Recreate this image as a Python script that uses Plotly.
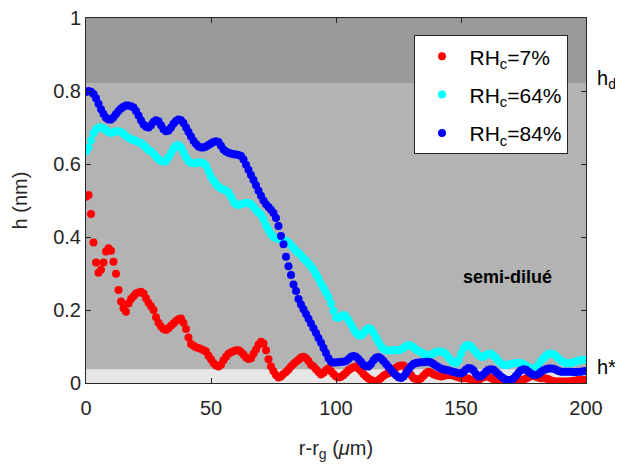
import plotly.graph_objects as go

x_um = list(range(0, 201))

h_rh7 = [
    0.51, 0.515, 0.463, 0.385, 0.33, 0.302, 0.31, 0.33, 0.36, 0.369,
    0.362, 0.332, 0.299, 0.255, 0.223, 0.205, 0.195, 0.218, 0.23, 0.238,
    0.245, 0.248, 0.25, 0.245, 0.232, 0.22, 0.21, 0.2, 0.18, 0.165,
    0.155, 0.148, 0.145, 0.15, 0.157, 0.163, 0.17, 0.175, 0.177, 0.165,
    0.148, 0.125, 0.107, 0.102, 0.098, 0.096, 0.093, 0.09, 0.086, 0.075,
    0.065, 0.055, 0.048, 0.045, 0.05, 0.062, 0.072, 0.08, 0.084, 0.087,
    0.09, 0.09, 0.085, 0.078, 0.07, 0.066, 0.068, 0.08, 0.092, 0.105,
    0.113, 0.108, 0.09, 0.065, 0.045, 0.032, 0.022, 0.015, 0.018, 0.025,
    0.03, 0.037, 0.045, 0.052, 0.058, 0.064, 0.07, 0.072, 0.068, 0.06,
    0.05, 0.045, 0.038, 0.03, 0.023, 0.028, 0.035, 0.04, 0.032, 0.025,
    0.018, 0.015, 0.017, 0.022, 0.028, 0.035, 0.04, 0.043, 0.045, 0.04,
    0.033, 0.025, 0.018, 0.012, 0.008, 0.005, 0.004, 0.008, 0.014, 0.02,
    0.024, 0.027, 0.032, 0.037, 0.042, 0.046, 0.048, 0.048, 0.042, 0.032,
    0.022, 0.014, 0.01, 0.008, 0.013, 0.02, 0.027, 0.031, 0.028, 0.024,
    0.021, 0.019, 0.018, 0.019, 0.021, 0.022, 0.022, 0.02, 0.018, 0.016,
    0.014, 0.013, 0.013, 0.012, 0.008, 0.005, 0.005, 0.008, 0.012, 0.016,
    0.018, 0.017, 0.014, 0.01, 0.006, 0.004, 0.004, 0.005, 0.007, 0.008,
    0.008, 0.008, 0.008, 0.008, 0.008, 0.009, 0.012, 0.016, 0.019, 0.019,
    0.017, 0.015, 0.013, 0.013, 0.012, 0.01, 0.007, 0.005, 0.004, 0.004,
    0.004, 0.004, 0.004, 0.004, 0.005, 0.006, 0.007, 0.008, 0.008, 0.008,
    0.009,
]

h_rh64 = [
    0.634, 0.645, 0.665, 0.685, 0.695, 0.70, 0.70, 0.698, 0.693, 0.688,
    0.685, 0.687, 0.69, 0.69, 0.688, 0.683, 0.677, 0.672, 0.668, 0.666,
    0.663, 0.66, 0.657, 0.652, 0.645, 0.638, 0.634, 0.628, 0.62, 0.613,
    0.608, 0.606, 0.608, 0.618, 0.63, 0.642, 0.65, 0.652, 0.645, 0.632,
    0.618, 0.608, 0.603, 0.602, 0.602, 0.604, 0.604, 0.602, 0.595, 0.58,
    0.565, 0.555, 0.545, 0.538, 0.533, 0.53, 0.527, 0.522, 0.51, 0.497,
    0.49, 0.488, 0.49, 0.492, 0.493, 0.493, 0.49, 0.483, 0.475, 0.467,
    0.46, 0.448, 0.432, 0.419, 0.408, 0.40, 0.397, 0.395, 0.393, 0.392,
    0.39, 0.385, 0.378, 0.37, 0.362, 0.356, 0.349, 0.342, 0.335, 0.327,
    0.319, 0.31, 0.298, 0.286, 0.272, 0.26, 0.248, 0.236, 0.218, 0.198,
    0.18, 0.178, 0.183, 0.186, 0.182, 0.172, 0.16, 0.148, 0.138, 0.131,
    0.13, 0.136, 0.145, 0.15, 0.148, 0.138, 0.125, 0.112, 0.10, 0.093,
    0.09, 0.089, 0.089, 0.09, 0.09, 0.09, 0.092, 0.096, 0.101, 0.104,
    0.102, 0.097, 0.092, 0.088, 0.084, 0.08, 0.078, 0.077, 0.078, 0.081,
    0.085, 0.086, 0.086, 0.084, 0.078, 0.07, 0.062, 0.056, 0.054, 0.062,
    0.08, 0.095, 0.102, 0.104, 0.10, 0.092, 0.084, 0.076, 0.072, 0.072,
    0.076, 0.08, 0.08, 0.075, 0.068, 0.06, 0.054, 0.05, 0.049, 0.05,
    0.052, 0.054, 0.055, 0.055, 0.055, 0.052, 0.047, 0.043, 0.04, 0.04,
    0.042, 0.05, 0.06, 0.068, 0.075, 0.08, 0.081, 0.079, 0.074, 0.067,
    0.061, 0.057, 0.054, 0.054, 0.055, 0.057, 0.059, 0.061, 0.063, 0.064,
    0.063,
]

h_rh84 = [
    0.797, 0.80, 0.798, 0.792, 0.78, 0.765, 0.75, 0.737, 0.727, 0.722,
    0.722, 0.728, 0.737, 0.745, 0.752, 0.757, 0.76, 0.76, 0.758, 0.755,
    0.745, 0.733, 0.72, 0.708, 0.702, 0.70, 0.706, 0.715, 0.72, 0.717,
    0.706, 0.695, 0.69, 0.692, 0.70, 0.71, 0.718, 0.722, 0.72, 0.712,
    0.70, 0.688, 0.675, 0.664, 0.655, 0.648, 0.645, 0.645, 0.648, 0.652,
    0.656, 0.66, 0.662, 0.66, 0.65, 0.64, 0.634, 0.631, 0.629, 0.627,
    0.626, 0.625, 0.622, 0.612, 0.598, 0.584, 0.57, 0.556, 0.542, 0.527,
    0.513, 0.50, 0.49, 0.482, 0.475, 0.466, 0.452, 0.43, 0.403, 0.38,
    0.346, 0.32, 0.296, 0.27, 0.252, 0.23, 0.215, 0.202, 0.189, 0.176,
    0.163, 0.15, 0.137, 0.123, 0.11, 0.096, 0.082, 0.068, 0.058, 0.056,
    0.056, 0.057, 0.058, 0.058, 0.06, 0.066, 0.072, 0.074, 0.072, 0.066,
    0.058, 0.05, 0.046, 0.045, 0.052, 0.062, 0.069, 0.071, 0.067, 0.06,
    0.052, 0.044, 0.036, 0.028, 0.021, 0.016, 0.014, 0.018, 0.027, 0.037,
    0.046, 0.052, 0.055, 0.056, 0.057, 0.057, 0.058, 0.058, 0.056, 0.052,
    0.047, 0.043, 0.04, 0.037, 0.036, 0.034, 0.032, 0.03, 0.029, 0.027,
    0.026, 0.03, 0.037, 0.041, 0.04, 0.034, 0.025, 0.018, 0.018, 0.024,
    0.031, 0.036, 0.038, 0.036, 0.03, 0.024, 0.018, 0.013, 0.009, 0.008,
    0.008, 0.012, 0.02, 0.028, 0.035, 0.038, 0.036, 0.031, 0.026, 0.022,
    0.022, 0.025, 0.03, 0.035, 0.038, 0.04, 0.04, 0.039, 0.036, 0.033,
    0.031, 0.031, 0.031, 0.031, 0.031, 0.03, 0.03, 0.031, 0.031, 0.032,
    0.033,
]

series_names = ["RH<sub>c</sub>=7%", "RH<sub>c</sub>=64%", "RH<sub>c</sub>=84%"]
series_colors = ["#ff0000", "#00ffff", "#0000ff"]

h_star = 0.038
h_d = 0.822

x_ticks = [0, 50, 100, 150, 200]
y_ticks = [0, 0.2, 0.4, 0.6, 0.8, 1]

FONT = "Liberation Sans, Arial, sans-serif"
AX = "#262626"

fig = go.Figure()
for i, (ys, name, col) in enumerate(zip([h_rh7, h_rh64, h_rh84], series_names, series_colors)):
    fig.add_trace(go.Scatter(
        x=x_um, y=ys, mode="markers", name=name, legendgroup=f"g{i}",
        marker=dict(color=col, size=8, line=dict(width=0)),
    ))

# background bands
fig.add_shape(type="rect", xref="paper", yref="y", x0=0, x1=1, y0=h_d, y1=1,
              fillcolor="#9a9a9a", line=dict(width=0), layer="below")
fig.add_shape(type="rect", xref="paper", yref="y", x0=0, x1=1, y0=0, y1=h_star,
              fillcolor="#e6e6e6", line=dict(width=0), layer="below")

fig.add_annotation(x=1.018, xref="paper", y=0.832, yref="y",
                   text="h<sub>d</sub>", showarrow=False, xanchor="left",
                   font=dict(family=FONT, size=20, color="#000000"))
fig.add_annotation(x=1.018, xref="paper", y=0.045, yref="y",
                   text="h*", showarrow=False, xanchor="left",
                   font=dict(family=FONT, size=20, color="#000000"))
fig.add_annotation(x=168.5, y=0.29, text="<b>semi-dilué</b>", showarrow=False,
                   font=dict(family=FONT, size=18, color="#000000"))

fig.update_layout(
    width=623, height=468,
    margin=dict(l=78, r=45, t=10, b=93, autoexpand=False),
    paper_bgcolor="#ffffff",
    plot_bgcolor="#b3b3b3",
    font=dict(family=FONT, size=20, color=AX),
    showlegend=True,
    legend=dict(
        x=0.655, y=0.953, xanchor="left", yanchor="top",
        bgcolor="#ffffff", bordercolor=AX, borderwidth=1,
        font=dict(family=FONT, size=21, color="#000000"),
        itemsizing="trace", itemwidth=45, tracegroupgap=8,
    ),
    xaxis=dict(
        range=[0, 200], tickvals=x_ticks, ticktext=[str(v) for v in x_ticks],
        showgrid=False, zeroline=False, showline=True, linecolor=AX, linewidth=1,
        mirror="ticks", ticks="inside", ticklen=5, tickcolor=AX,
        tickfont=dict(family=FONT, size=20, color=AX), ticklabelstandoff=7,
        ticklabeloverflow="allow", automargin=False,
        title=dict(text="r-r<sub>g</sub> (<i>μ</i>m)", font=dict(family=FONT, size=20, color=AX), standoff=22),
    ),
    yaxis=dict(
        range=[0, 1], tickvals=y_ticks, ticktext=["0", "0.2", "0.4", "0.6", "0.8", "1"],
        showgrid=False, zeroline=False, showline=True, linecolor=AX, linewidth=1,
        mirror="ticks", ticks="inside", ticklen=5, tickcolor=AX,
        tickfont=dict(family=FONT, size=20, color=AX),
        ticklabeloverflow="allow", automargin=False,
        title=dict(text="h (nm)", font=dict(family=FONT, size=20, color=AX), standoff=20),
    ),
)

fig.write_html("out.html")
